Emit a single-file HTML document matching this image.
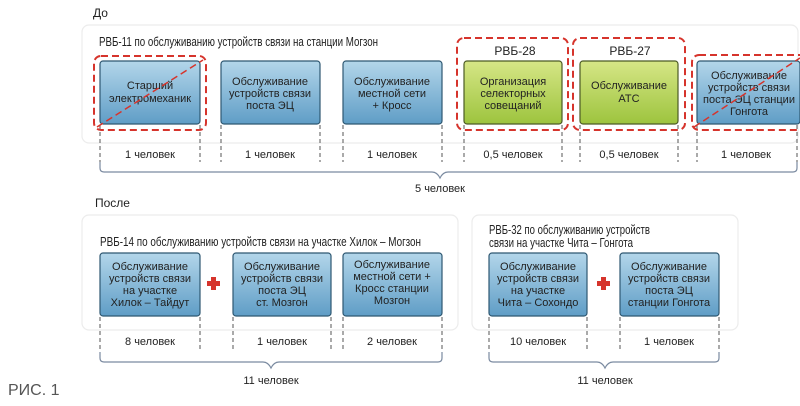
<!DOCTYPE html>
<html><head><meta charset="utf-8"><style>
body{margin:0;background:#fff;}
svg text{font-family:"Liberation Sans",sans-serif;fill:#222;}
</style></head><body>
<svg width="800" height="401" viewBox="0 0 800 401" xmlns="http://www.w3.org/2000/svg">
<defs>
<linearGradient id="b" x1="0" y1="0" x2="0" y2="1"><stop offset="0" stop-color="#b3d6ea"/><stop offset="1" stop-color="#5f9dc6"/></linearGradient>
<linearGradient id="g" x1="0" y1="0" x2="0" y2="1"><stop offset="0" stop-color="#d6e686"/><stop offset="1" stop-color="#9dc43e"/></linearGradient>
</defs>
<g fill="none" stroke="#ececec" stroke-width="1.2">
<rect x="82" y="25" width="716" height="118" rx="7"/>
<rect x="82" y="215" width="376" height="115" rx="7"/>
<rect x="472" y="215" width="266" height="115" rx="7"/>
</g>
<text x="93" y="17" font-size="12">До</text>
<text x="99" y="46" font-size="12.5" textLength="279" lengthAdjust="spacingAndGlyphs">РВБ-11 по обслуживанию устройств связи на станции Могзон</text>
<text x="95" y="207" font-size="12">После</text>
<text x="100" y="246" font-size="12.5" textLength="321" lengthAdjust="spacingAndGlyphs">РВБ-14 по обслуживанию устройств связи на участке Хилок – Могзон</text>
<text x="489" y="234" font-size="12.5" textLength="161" lengthAdjust="spacingAndGlyphs">РВБ-32 по обслуживанию устройств</text>
<text x="489" y="247" font-size="12.5" textLength="144" lengthAdjust="spacingAndGlyphs">связи на участке Чита – Гонгота</text>
<g stroke="#2e5872" stroke-width="1.2">
<rect x="100" y="61" width="100" height="63" rx="3" fill="url(#b)"/>
<rect x="221" y="61" width="99" height="63" rx="3" fill="url(#b)"/>
<rect x="343" y="61" width="99" height="63" rx="3" fill="url(#b)"/>
<rect x="464" y="61" width="98" height="63" rx="3" fill="url(#g)" stroke="#4b5a25"/>
<rect x="580" y="61" width="98" height="63" rx="3" fill="url(#g)" stroke="#4b5a25"/>
<rect x="697" y="61" width="103" height="63" rx="3" fill="url(#b)"/>
<rect x="100" y="253" width="100" height="63" rx="3" fill="url(#b)"/>
<rect x="233" y="253" width="98" height="63" rx="3" fill="url(#b)"/>
<rect x="343" y="253" width="99" height="63" rx="3" fill="url(#b)"/>
<rect x="489" y="253" width="98" height="63" rx="3" fill="url(#b)"/>
<rect x="620" y="253" width="99" height="63" rx="3" fill="url(#b)"/>
</g>
<g font-size="11" text-anchor="middle">
<text x="150" y="89">Старший</text><text x="150" y="102">электромеханик</text>
<text x="270" y="85">Обслуживание</text><text x="270" y="97">устройств связи</text><text x="270" y="109">поста ЭЦ</text>
<text x="392" y="85">Обслуживание</text><text x="392" y="97">местной сети</text><text x="392" y="109">+ Кросс</text>
<text x="513" y="85">Организация</text><text x="513" y="97">селекторных</text><text x="513" y="109">совещаний</text>
<text x="629" y="89">Обслуживание</text><text x="629" y="102">АТС</text>
<text x="749" y="79">Обслуживание</text><text x="749" y="91">устройств связи</text><text x="749" y="103">поста ЭЦ станции</text><text x="749" y="115">Гонгота</text>
<text x="515" y="55" font-size="12">РВБ-28</text><text x="630" y="55" font-size="12">РВБ-27</text>
<text x="150" y="270">Обслуживание</text><text x="150" y="282">устройств связи</text><text x="150" y="294">на участке</text><text x="150" y="306">Хилок – Тайдут</text>
<text x="282" y="270">Обслуживание</text><text x="282" y="282">устройств связи</text><text x="282" y="294">поста ЭЦ</text><text x="282" y="306">ст. Мозгон</text>
<text x="392" y="268">Обслуживание</text><text x="392" y="280">местной сети +</text><text x="392" y="292">Кросс станции</text><text x="392" y="304">Мозгон</text>
<text x="538" y="270">Обслуживание</text><text x="538" y="282">устройств связи</text><text x="538" y="294">на участке</text><text x="538" y="306">Чита – Сохондо</text>
<text x="669" y="270">Обслуживание</text><text x="669" y="282">устройств связи</text><text x="669" y="294">поста ЭЦ</text><text x="669" y="306">станции Гонгота</text>
<text x="150" y="158">1 человек</text><text x="270" y="158">1 человек</text><text x="392" y="158">1 человек</text>
<text x="513" y="158">0,5 человек</text><text x="629" y="158">0,5 человек</text><text x="746" y="158">1 человек</text>
<text x="440" y="192">5 человек</text>
<text x="150" y="345">8 человек</text><text x="282" y="345">1 человек</text><text x="392" y="345">2 человек</text>
<text x="271" y="384">11 человек</text>
<text x="538" y="345">10 человек</text><text x="669" y="345">1 человек</text>
<text x="605" y="384">11 человек</text>
</g>
<g fill="none" stroke="#555" stroke-width="1" stroke-dasharray="4,3">
<path d="M100 125V162M200 125V162M221 125V162M320 125V162M343 125V162M442 125V162M464 125V162M562 125V162M580 125V162M678 125V162M697 125V162M797 125V162"/>
<path d="M100 317V352M200 317V352M233 317V352M331 317V352M343 317V352M442 317V352M489 317V352M587 317V352M620 317V352M719 317V352"/>
</g>
<g fill="none" stroke="#7a8aa0" stroke-width="1.2">
<path d="M100 162V168q0 4 4 4H432q5 0 8 6q3-6 8-6H793q4 0 4-4V162"/>
<path d="M100 352V358q0 4 4 4H263q5 0 8 6q3-6 8-6H438q4 0 4-4V352"/>
<path d="M489 352V358q0 4 4 4H597q5 0 8 6q3-6 8-6H715q4 0 4-4V352"/>
</g>
<g fill="none" stroke="#d6342c" stroke-width="2" stroke-dasharray="7,4">
<rect x="94" y="56" width="112" height="74" rx="7"/>
<rect x="457" y="38" width="111" height="92" rx="7"/>
<rect x="573" y="38" width="112" height="92" rx="7"/>
<rect x="692" y="55" width="115" height="75" rx="7"/>
<path d="M97 127L203 60M694 127L800 58" stroke-width="1.5"/>
</g>
<g fill="#d6342c">
<rect x="207" y="281" width="13" height="5"/><rect x="211" y="277" width="5" height="13"/>
<rect x="597" y="281" width="13" height="5"/><rect x="601" y="277" width="5" height="13"/>
</g>
<text x="8" y="395" font-size="16" style="fill:#555">РИС. 1</text>
</svg>
</body></html>
